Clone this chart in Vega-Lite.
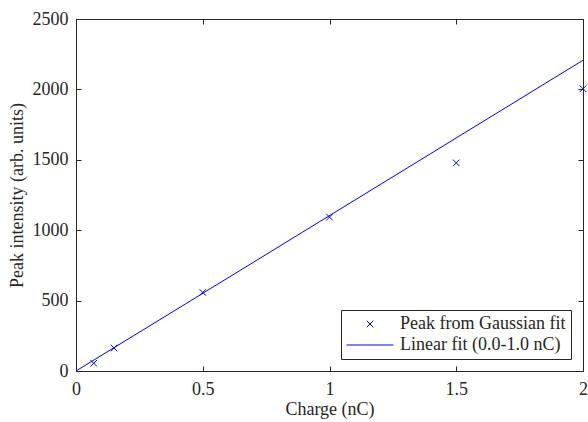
{
  "$schema": "https://vega.github.io/schema/vega-lite/v6.json",
  "width": 507,
  "height": 352,
  "autosize": "none",
  "padding": {"left": 76, "top": 19, "right": 5, "bottom": 51},
  "background": "white",
  "config": {
    "view": {"stroke": null},
    "font": "Liberation Serif",
    "axis": {
      "grid": false,
      "domainColor": "#262626",
      "tickColor": "#262626",
      "labelColor": "#262626",
      "titleColor": "#262626",
      "labelFont": "Liberation Serif",
      "titleFont": "Liberation Serif",
      "labelFontSize": 18,
      "titleFontSize": 18,
      "titleFontWeight": "normal",
      "tickSize": -5,
      "domainWidth": 1,
      "tickWidth": 1,
      "labelPadding": 13,
      "labelFlush": false
    },
    "legend": {
      "orient": "bottom-right",
      "offset": 12,
      "strokeColor": "#262626",
      "fillColor": "white",
      "padding": 5,
      "labelFont": "Liberation Serif",
      "labelFontSize": 18,
      "labelColor": "#262626",
      "labelLimit": 400,
      "symbolSize": 2209,
      "labelOffset": 6,
      "rowPadding": 3,
      "clipHeight": 18,
      "symbolStrokeColor": "#0000ff",
      "symbolStrokeWidth": 1,
      "symbolFillColor": "transparent"
    }
  },
  "datasets": {
    "peaks": [
      {"charge": 0.07, "intensity": 55, "series": "Peak from Gaussian fit"},
      {"charge": 0.15, "intensity": 163, "series": "Peak from Gaussian fit"},
      {"charge": 0.5, "intensity": 558, "series": "Peak from Gaussian fit"},
      {"charge": 1.0, "intensity": 1093, "series": "Peak from Gaussian fit"},
      {"charge": 1.5, "intensity": 1478, "series": "Peak from Gaussian fit"},
      {"charge": 2.0, "intensity": 2005, "series": "Peak from Gaussian fit"}
    ],
    "fit": [
      {"charge": 0, "intensity": 0},
      {"charge": 2, "intensity": 2207}
    ]
  },
  "layer": [
    {
      "data": {"name": "fit"},
      "mark": {"type": "line", "color": "#0000ff", "strokeWidth": 1, "clip": true},
      "encoding": {
        "x": {
          "field": "charge", "type": "quantitative",
          "scale": {"domain": [0, 2], "nice": false},
          "axis": {"orient": "top", "labels": false, "title": null, "values": [0, 0.5, 1, 1.5, 2]}
        },
        "y": {
          "field": "intensity", "type": "quantitative",
          "scale": {"domain": [0, 2500], "nice": false},
          "axis": {"orient": "right", "labels": false, "title": null, "values": [0, 500, 1000, 1500, 2000, 2500]}
        }
      }
    },
    {
      "data": {"name": "peaks"},
      "mark": {"type": "point", "filled": false, "strokeWidth": 1, "size": 2209, "color": "#0000ff", "opacity": 1},
      "encoding": {
        "x": {
          "field": "charge", "type": "quantitative",
          "scale": {"domain": [0, 2], "nice": false},
          "axis": {"orient": "bottom", "title": "Charge (nC)", "values": [0, 0.5, 1, 1.5, 2], "format": "~g", "labelPadding": 14, "titlePadding": 2}
        },
        "y": {
          "field": "intensity", "type": "quantitative",
          "scale": {"domain": [0, 2500], "nice": false},
          "axis": {"orient": "left", "title": "Peak intensity (arb. units)", "values": [0, 500, 1000, 1500, 2000, 2500], "format": "d", "titlePadding": 6}
        },
        "shape": {
          "field": "series", "type": "nominal",
          "scale": {
            "domain": ["Peak from Gaussian fit", "Linear fit (0.0-1.0 nC)"],
            "range": ["M-0.14,-0.14L0.14,0.14M-0.14,0.14L0.14,-0.14", "M-1,0L1,0"]
          },
          "legend": {"title": null}
        }
      }
    }
  ]
}
